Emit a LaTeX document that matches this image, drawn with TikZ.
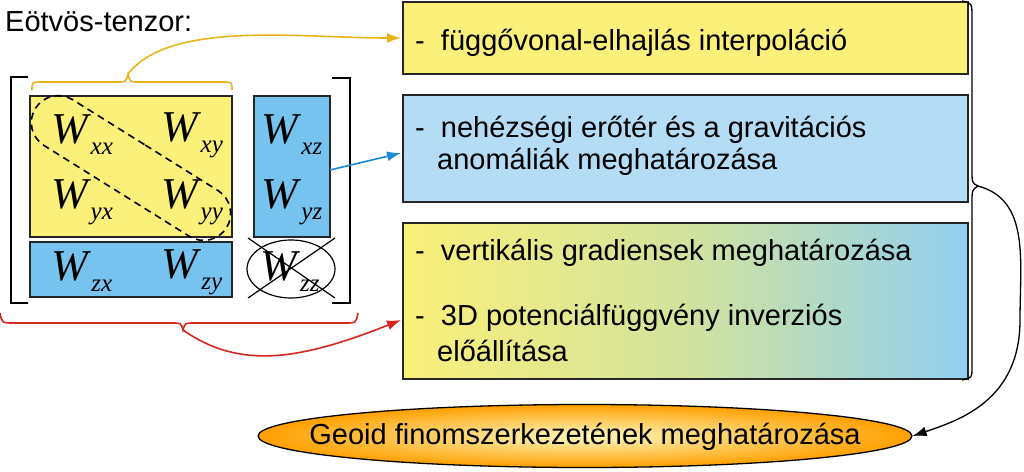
\documentclass[tikz,border=0pt]{standalone}
\usepackage{fontspec}
\setmainfont{Liberation Sans}
\newfontfamily\wserif{Liberation Serif}
\usetikzlibrary{shapes.geometric,shapes.misc,arrows.meta}
\definecolor{Yl}{HTML}{FAF07A}
\definecolor{Bl}{HTML}{75C3EE}
\definecolor{LB}{HTML}{B4DDF5}
\definecolor{Gold}{HTML}{E9B419}
\definecolor{Rd}{HTML}{D7261E}
\definecolor{Ar}{HTML}{1A8AD4}
\newcommand{\Wt}[1]{{\wserif\itshape\fontsize{44}{44}\selectfont W\hspace{3pt}\raisebox{-11pt}{\fontsize{25}{25}\selectfont #1}}}
\tikzset{
 txt/.style={font=\fontsize{29}{29}\selectfont, anchor=west, inner sep=0pt},
 wn/.style={inner sep=0pt},
 box/.style={draw=black!85, line width=1.6pt},
}
\begin{document}
\begin{tikzpicture}[x=1pt,y=-1pt]
\useasboundingbox (0,0) rectangle (1024,471);
\node[txt] (title) at (5,22) {Eötvös-tenzor:};
% matrix boxes
\draw[box, fill=Yl] (30,96) rectangle (232,237);
\draw[box, fill=Bl] (254,96) rectangle (330,237);
\draw[box, fill=Bl] (30,242) rectangle (232,297);
\coordinate (bxz) at (330,170);
% brackets
\draw[line width=2pt] (28,77) -- (11,77) -- (11,303) -- (28,303);
\draw[line width=2pt] (332,78) -- (350,78) -- (350,303) -- (332,303);
% W nodes
\node[wn] (wxx) at (82,135) {\Wt{xx}};
\node[wn] (wxy) at (192,135) {\Wt{xy}};
\node[wn] (wyx) at (82,202) {\Wt{yx}};
\node[wn] (wyy) at (192,202) {\Wt{yy}};
\node[wn] (wxz) at (292,135) {\Wt{xz}};
\node[wn] (wyz) at (292,202) {\Wt{yz}};
\node[wn] (wzx) at (82,272) {\Wt{zx}};
\node[wn] (wzy) at (192,272) {\Wt{zy}};
\node[wn] (wzz) at (290,272) {\Wt{zz}};
\node[draw, ellipse, minimum width=88pt, minimum height=58pt, line width=1.2pt] (ezz) at (291,269) {};
\draw[line width=1.2pt] (248,238) -- (335,298) (248,298) -- (335,238);
% dashed stadium
\node[draw, dashed, dash pattern=on 7pt off 5pt, rounded rectangle, line width=1.6pt, minimum width=232pt, minimum height=54pt, rotate=-32] (diag) at (131,168) {};
% braces
\draw[Gold, line width=1.6pt] (32,90) .. controls (32,82) .. (42,82) -- (118,82) .. controls (126,82) .. (128,74) .. controls (130,82) .. (138,82) -- (222,82) .. controls (232,82) .. (232,90);
\coordinate (ytip) at (128,74);
\draw[Rd, line width=1.6pt] (0,313) .. controls (2,323) .. (14,323) -- (172,323) .. controls (181,323) .. (183,330) .. controls (185,323) .. (194,323) -- (346,323) .. controls (356,323) .. (358,313);
\coordinate (rtip) at (183,330);
% right boxes
\draw[box, fill=Yl] (403,2) rectangle (968,74);
\node[txt] (t1) at (415,43) {-\ \ függővonal-elhajlás interpoláció};
\draw[box, fill=LB] (403,95) rectangle (968,202);
\node[txt] (t2) at (415,130) {-\ \ nehézségi erőtér és a gravitációs};
\node[txt] (t2b) at (437,162) {anomáliák meghatározása};
\shade[left color=Yl, right color=Bl!80!white, middle color=Yl!70!Bl] (403,223) rectangle (968,379);
\draw[box] (403,223) rectangle (968,379);
\node[txt] (t3) at (415,253) {-\ \ vertikális gradiensek meghatározása};
\node[txt] (t4) at (415,318) {-\ \ 3D potenciálfüggvény inverziós};
\node[txt] (t4b) at (437,351) {előállítása};
\coordinate (b1) at (401,38);
\coordinate (b2) at (401,153);
\coordinate (b3) at (401,320);
% arrows
\draw[Gold, line width=1.6pt, -{Latex[length=14pt,width=10pt]}] (ytip) .. controls (170,20) and (300,38) .. (b1);
\draw[Ar, line width=1.6pt, -{Latex[length=14pt,width=10pt]}] (bxz) -- (b2);
\draw[Rd, line width=1.6pt, -{Latex[length=14pt,width=10pt]}] (rtip) .. controls (240,370) and (300,360) .. (b3);
% right brace
\draw[line width=1.3pt] (962,1) .. controls (972,3) .. (972,18) -- (972,170) .. controls (972,183) .. (978,186) .. controls (972,190) .. (972,203) -- (972,366) .. controls (972,378) .. (962,380);
\coordinate (btip) at (978,186);
% ellipse
\node[ellipse, draw=black, line width=1.3pt, inner color=Yl!50!white, outer color=orange!75!yellow, minimum width=654pt, minimum height=63pt] (geo) at (585,436) {};
\node[font=\fontsize{29}{29}\selectfont] (geot) at (585,437) {Geoid finomszerkezetének meghatározása};
\draw[line width=1.3pt, -{Latex[length=14pt,width=10pt]}] (btip) .. controls (1030,200) and (1020,260) .. (1020,320) .. controls (1020,400) and (960,420) .. (geo.east);
\end{tikzpicture}
\end{document}
